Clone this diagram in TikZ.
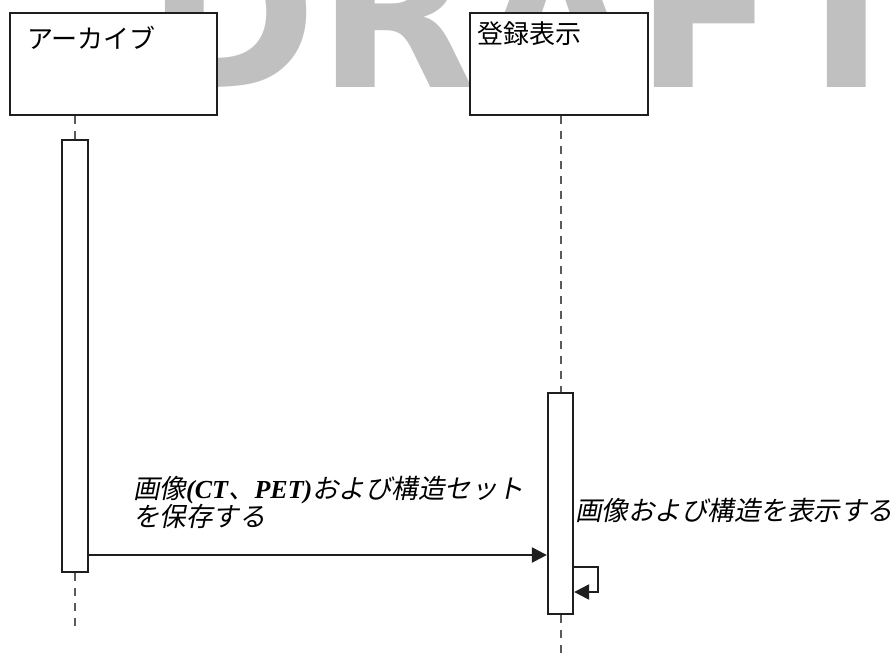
\documentclass[tikz,border=0pt]{standalone}
\usepackage{fontspec}
\usetikzlibrary{arrows.meta}
\newfontfamily\jpfont{Noto Sans CJK JP}
\newfontfamily\jpitfont[FakeSlant=0.2]{Noto Sans CJK JP}
\newfontfamily\lserif{Liberation Serif}
\newfontfamily\wmfont{DejaVu Sans}
\definecolor{wmgray}{RGB}{192,192,192}
\definecolor{linedark}{RGB}{30,30,30}
\definecolor{lifegray}{RGB}{90,90,90}
\tikzset{
  headbox/.style={draw=linedark, line width=2.3pt, fill=white, minimum width=#1, minimum height=102pt, inner sep=0pt},
  headtext/.style={anchor=base west, inner sep=0pt, font=\jpfont\fontsize{26}{26}\selectfont},
  actbar/.style={draw=linedark, line width=2.3pt, fill=white, minimum width=#1, inner sep=0pt},
  lifeline/.style={draw=lifegray, line width=2pt, dash pattern=on 8pt off 7pt},
  msg/.style={draw=linedark, line width=2.3pt, -{Triangle[length=15pt,width=15pt]}},
  msglabel/.style={anchor=base west, inner sep=0pt, align=left, font=\jpitfont\fontsize{26.5}{28}\selectfont}
}
\newcommand{\latinbi}[1]{{\lserif\bfseries\itshape\fontsize{26}{28}\selectfont #1}}
\begin{document}
\begin{tikzpicture}[x=1pt,y=-1pt]
\useasboundingbox (0,0) rectangle (896,657);
\fill[white] (0,0) rectangle (896,657);
\begin{scope}
\clip (0,0) rectangle (896,657);
\node[anchor=base west, inner sep=0pt, text=wmgray, font=\wmfont\bfseries\fontsize{206}{206}\selectfont] (wm) at (146.5,87) {DRAFT};
\end{scope}
% lifeline heads
\node[headbox=207pt] (h1) at (113.5,64) {};
\node[headbox=178pt] (h2) at (559,64) {};
\node[headtext] (t1) at (27,48) {アーカイブ};
\node[headtext] (t2) at (477,43) {登録表示};
% activation bars
\node[actbar=26pt, minimum height=432pt] (a1) at (75,356) {};
\node[actbar=25pt, minimum height=221pt] (a2) at (560.5,503.5) {};
% lifelines
\coordinate (l1end) at (75,630);
\coordinate (l2end) at (560.5,660);
\draw[lifeline] (h1.south -| a1.north) -- (a1.north);
\draw[lifeline] (a1.south) -- (l1end);
\draw[lifeline] (h2.south -| a2.north) -- (a2.north);
\draw[lifeline] (a2.south) -- (l2end);
% messages
\coordinate (m1) at (0,555);
\coordinate (sa) at (598,567);
\coordinate (sb) at (598,592);
\draw[msg] (a1.east |- m1) -- (a2.west |- m1);
\draw[msg] (a2.east |- sa) -- (sa) -- (sb) -- (a2.east |- sb);
\node[msglabel] (lbl1) at (133,526) {画像\latinbi{(CT}、\latinbi{PET)}および構造セット\\を保存する};
\node[msglabel] (lbl2) at (575,520) {画像および構造を表示する};
\end{tikzpicture}
\end{document}
